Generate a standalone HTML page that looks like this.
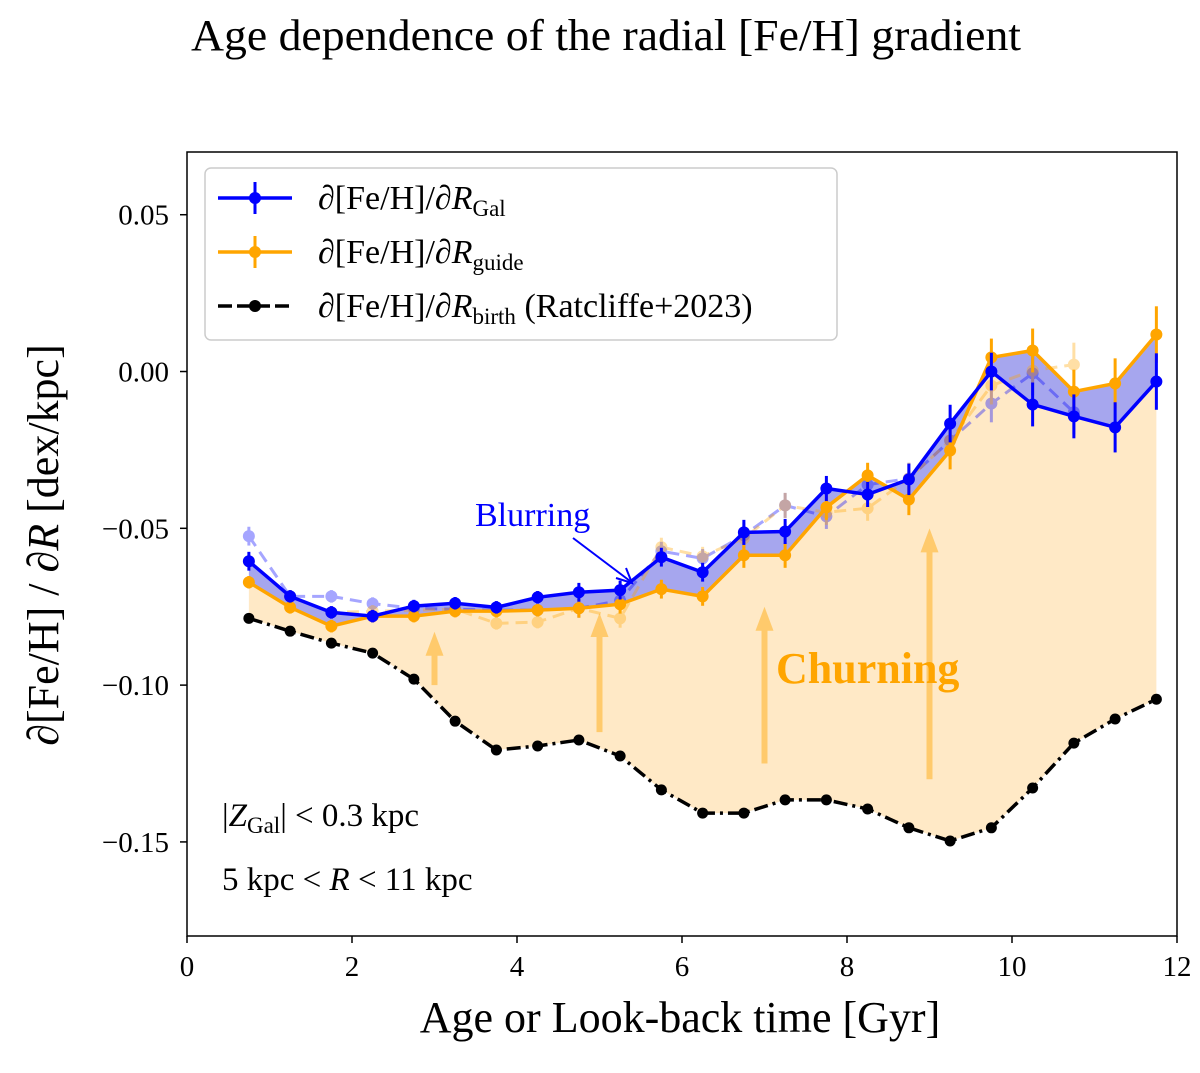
<!DOCTYPE html>
<html><head><meta charset="utf-8"><style>
body{margin:0;background:#fff}
svg text{font-family:"Liberation Serif","DejaVu Serif",serif}
</style></head><body>
<svg id="chart" width="1200" height="1068" viewBox="0 0 1200 1068" xmlns="http://www.w3.org/2000/svg">
<text x="606" y="50" font-size="44" text-anchor="middle" textLength="830" lengthAdjust="spacingAndGlyphs">Age dependence of the radial [Fe/H] gradient</text>
<g id="plot"></g>
</svg>
<script>
const ages=[0.75,1.25,1.75,2.25,2.75,3.25,3.75,4.25,4.75,5.25,5.75,6.25,6.75,7.25,7.75,8.25,8.75,9.25,9.75,10.25,10.75,11.25,11.75];
const gal=[-0.0605,-0.0717,-0.0768,-0.078,-0.0748,-0.0739,-0.0752,-0.072,-0.0704,-0.0697,-0.0592,-0.064,-0.0513,-0.051,-0.0373,-0.0392,-0.0344,-0.0166,0,-0.0105,-0.0143,-0.0178,-0.0032];
const galErr=[0.003,0.002,0.002,0.002,0.002,0.002,0.002,0.002,0.003,0.003,0.003,0.003,0.004,0.004,0.004,0.004,0.005,0.006,0.006,0.007,0.007,0.008,0.009];
const guide=[-0.0672,-0.0752,-0.0812,-0.078,-0.078,-0.0764,-0.0764,-0.0761,-0.0755,-0.0742,-0.0694,-0.0717,-0.0586,-0.0586,-0.0433,-0.0331,-0.0408,-0.0252,0.0045,0.0067,-0.0064,-0.0038,0.0118];
const guideErr=[0.002,0.002,0.002,0.002,0.002,0.002,0.002,0.002,0.003,0.003,0.003,0.003,0.004,0.004,0.004,0.004,0.005,0.006,0.006,0.007,0.007,0.008,0.009];
const birth=[-0.0787,-0.0828,-0.0866,-0.0898,-0.0981,-0.1115,-0.1207,-0.1194,-0.1175,-0.1226,-0.1334,-0.1408,-0.1408,-0.1366,-0.1366,-0.1395,-0.1455,-0.1497,-0.1455,-0.1328,-0.1185,-0.1108,-0.1045];
const ages2=[0.75,1.25,1.75,2.25,2.75,3.25,3.75,4.25,4.75,5.25,5.75,6.25,6.75,7.25,7.75,8.25,8.75,9.25,9.75,10.25,10.75];
const galFaint=[-0.0525,-0.0717,-0.0717,-0.074,-0.0755,-0.0758,-0.0761,-0.0761,-0.0755,-0.073,-0.0573,-0.0596,-0.0522,-0.0427,-0.0462,-0.0361,-0.0341,-0.0220,-0.0102,-0.0006,-0.0130];
const guideFaint=[-0.0605,-0.0717,-0.0768,-0.0765,-0.0761,-0.0758,-0.0803,-0.0799,-0.0755,-0.0787,-0.0560,-0.0589,-0.0532,-0.0427,-0.0449,-0.0436,-0.0341,-0.0220,-0.0045,0.0003,0.0022];
const xTicks=[0,2,4,6,8,10,12];
const yTicks=[0.05,0,-0.05,-0.1,-0.15];
const yTickLabels=["0.05","0.00","\u22120.05","\u22120.10","\u22120.15"];
const arrowX=[3,5,7,9];
const arrowFrom=[-0.10,-0.115,-0.125,-0.13];
const arrowTo=[-0.083,-0.077,-0.075,-0.05];

const X0=187,X1=1177,Y0=152,Y1=936,xmin=0,xmax=12,ymin=-0.18,ymax=0.07;
const sx=v=>X0+(v-xmin)/(xmax-xmin)*(X1-X0);
const sy=v=>Y1-(v-ymin)/(ymax-ymin)*(Y1-Y0);
const NS="http://www.w3.org/2000/svg";
const plot=document.getElementById('plot');
function mk(tag,attrs,parent){const e=document.createElementNS(NS,tag);for(const k in attrs)e.setAttribute(k,attrs[k]);(parent||plot).appendChild(e);return e;}
const pts=(xs,ys)=>xs.map((x,i)=>sx(x)+","+sy(ys[i])).join(" ");
function area(xs,a,b){return xs.map((x,i)=>sx(x)+","+sy(a[i])).join(" ")+" "+xs.slice().reverse().map((x,j)=>{const i=xs.length-1-j;return sx(x)+","+sy(b[i]);}).join(" ");}

let e;
e=mk('polygon',{points:area(ages,guide,birth),fill:'#ffe9c6'});


e=mk('polygon',{points:area(ages,gal,guide),fill:'#a6a6ee'});



arrowX.forEach((x,i)=>{
 const g=mk('g',{opacity:0.45});
 
 
 const ty=sy(arrowTo[i]);
 mk('line',{x1:sx(x),y1:sy(arrowFrom[i]),x2:sx(x),y2:ty+22,stroke:'#ffa500','stroke-width':6},g);
 mk('polygon',{points:`${sx(x)-9},${ty+24} ${sx(x)+9},${ty+24} ${sx(x)},${ty}`,fill:'#ffa500'},g);
});

function series(xs,ys,errs,color,name,opts){
 const g=mk('g',{opacity:opts.op||1});
 
 
 mk('polyline',{points:pts(xs,ys),fill:'none',stroke:color,'stroke-width':opts.w||3,'stroke-dasharray':opts.dash||'none'},g);
 xs.forEach((x,i)=>{
  if(errs){mk('line',{x1:sx(x),x2:sx(x),y1:sy(ys[i]+errs[i]),y2:sy(ys[i]-errs[i]),stroke:color,'stroke-width':3},g);}
  const c=mk('circle',{cx:sx(x),cy:sy(ys[i]),r:opts.r||6,fill:color},g);
  
  
 });
}
series(ages2,galFaint,galErr.slice(0,21),'#0000ff','faint-gal-series',{op:0.35,dash:'12 7',w:3});
series(ages2,guideFaint,guideErr.slice(0,21),'#ffa500','faint-guide-series',{op:0.35,dash:'12 7',w:3});
series(ages,birth,null,'#000','birth-series',{dash:'14 5 3 5',w:3.5,r:5.5});
series(ages,guide,guideErr,'#ffa500','guide-series',{w:3.5});
series(ages,gal,galErr,'#0000ff','gal-series',{w:3.5});

e=mk('rect',{x:X0,y:Y0,width:X1-X0,height:Y1-Y0,fill:'none',stroke:'#000','stroke-width':1.5});


xTicks.forEach(t=>{
 mk('line',{x1:sx(t),x2:sx(t),y1:Y1,y2:Y1+7,stroke:'#000','stroke-width':1.5});
 e=mk('text',{x:sx(t),y:Y1+40,'font-size':29,'text-anchor':'middle'});e.textContent=t;
 
 
});
yTicks.forEach((t,i)=>{
 mk('line',{x1:X0-7,x2:X0,y1:sy(t),y2:sy(t),stroke:'#000','stroke-width':1.5});
 e=mk('text',{x:X0-18,y:sy(t)+10,'font-size':29,'text-anchor':'end'});e.textContent=yTickLabels[i];
 
 
});
e=mk('text',{x:680,y:1032,'font-size':44,'text-anchor':'middle'});e.textContent='Age or Look-back time [Gyr]';


e=mk('text',{x:0,y:0,'font-size':44,'text-anchor':'middle',transform:`translate(58,545) rotate(-90)`});
e.innerHTML='∂[Fe/H] / ∂<tspan font-style="italic">R</tspan> [dex/kpc]';



e=mk('text',{x:475,y:526,'font-size':34,fill:'#0000ff'});e.textContent='Blurring';


mk('line',{x1:573,y1:538,x2:630,y2:581,stroke:'#0000ff','stroke-width':2});
mk('polyline',{points:'616,578 632,583 626,568',fill:'none',stroke:'#0000ff','stroke-width':2});
e=mk('text',{x:776,y:683,'font-size':44,'font-weight':'bold',fill:'#ffa500'});e.textContent='Churning';


e=mk('text',{x:222,y:826,'font-size':33});e.innerHTML='|<tspan font-style="italic">Z</tspan><tspan font-size="23" dy="7">Gal</tspan><tspan dy="-7">| &lt; 0.3 kpc</tspan>';


e=mk('text',{x:222,y:890,'font-size':33});e.innerHTML='5 kpc &lt; <tspan font-style="italic">R</tspan> &lt; 11 kpc';



const lg=mk('g',{});


mk('rect',{x:205,y:168,width:632,height:172,rx:6,fill:'#fff','fill-opacity':0.85,stroke:'#ccc','stroke-width':1.5},lg);
const legItems=[['#0000ff','Gal','',null],['#ffa500','guide','',null],['#000','birth',' (Ratcliffe+2023)','14 5']];
legItems.forEach((it,i)=>{
 const y=198+i*54;
 const g=mk('g',{},lg);
 
 
 mk('line',{x1:218,x2:292,y1:y,y2:y,stroke:it[0],'stroke-width':3.5,'stroke-dasharray':it[3]||'none'},g);
 mk('circle',{cx:255,cy:y,r:6,fill:it[0]},g);
 if(i<2)mk('line',{x1:255,x2:255,y1:y-16,y2:y+16,stroke:it[0],'stroke-width':3},g);
 const t=mk('text',{x:318,y:y+11,'font-size':34},g);
 t.innerHTML=`∂[Fe/H]/∂<tspan font-style="italic">R</tspan><tspan font-size="23" dy="7">${it[1]}</tspan><tspan dy="-7">${it[2]}</tspan>`;
});
</script>
</body></html>
